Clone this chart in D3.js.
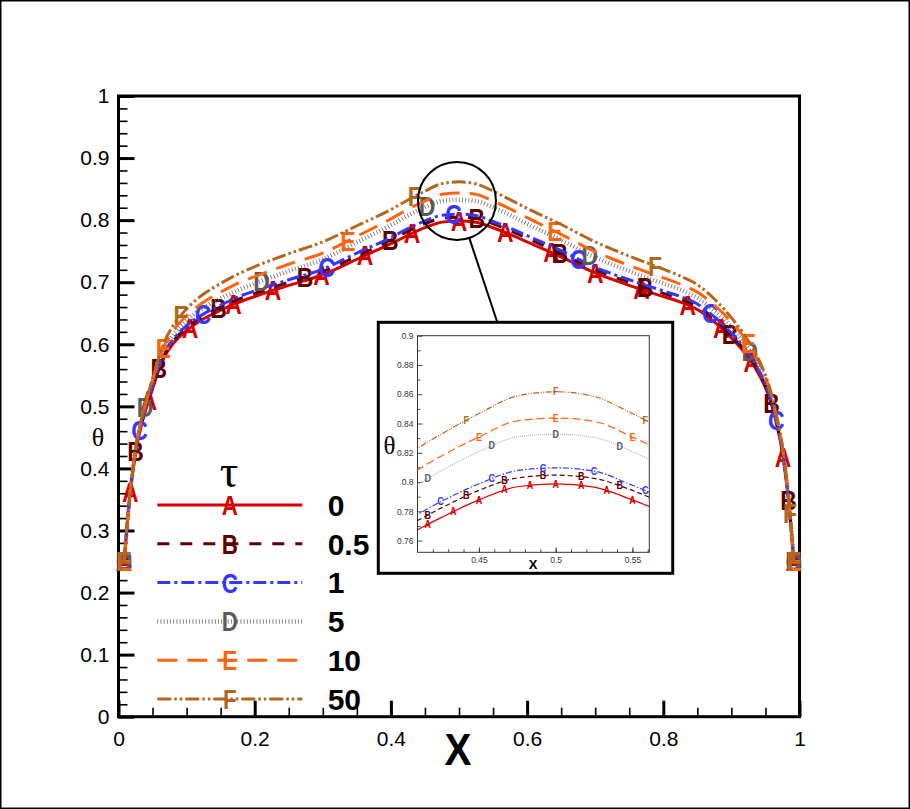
<!DOCTYPE html>
<html>
<head>
<meta charset="utf-8">
<script src="https://cdn.jsdelivr.net/npm/d3@7"></script>
<style>
  body { margin: 0; background: #fff; }
  svg { display: block; }
</style>
</head>
<body>
<svg id="chart" width="910" height="809"></svg>
<script>
// ---- data ----
const xs = [0.0083, 0.0167, 0.025, 0.0333, 0.0417, 0.05, 0.0583, 0.0667, 0.0833, 0.1,
            0.125, 0.15, 0.175, 0.2, 0.25, 0.3, 0.35, 0.4, 0.425, 0.45,
            0.475, 0.5, 0.525, 0.55, 0.575, 0.6, 0.65, 0.7, 0.75, 0.8,
            0.825, 0.85, 0.875, 0.9, 0.9167, 0.9333, 0.95, 0.9583, 0.9667, 0.975,
            0.9833, 0.9917];

const thetaA = [0.250, 0.355, 0.425, 0.468, 0.500, 0.528, 0.556, 0.578, 0.605, 0.622,
                0.641, 0.655, 0.667, 0.677, 0.695, 0.712, 0.737, 0.762, 0.7755, 0.7878,
                0.7968, 0.7987, 0.7965, 0.7878, 0.777, 0.765, 0.741, 0.715, 0.695, 0.677,
                0.668, 0.656, 0.636, 0.610, 0.590, 0.565, 0.530, 0.505, 0.470, 0.425,
                0.355, 0.250];
const thetaB = [0.250, 0.356, 0.427, 0.470, 0.503, 0.531, 0.559, 0.582, 0.609, 0.626,
                0.646, 0.660, 0.672, 0.682, 0.700, 0.717, 0.742, 0.768, 0.782, 0.7943,
                0.8028, 0.8047, 0.8025, 0.7943, 0.783, 0.771, 0.746, 0.720, 0.700, 0.682,
                0.673, 0.661, 0.641, 0.614, 0.594, 0.569, 0.533, 0.508, 0.472, 0.427,
                0.356, 0.250];
const thetaC = [0.250, 0.357, 0.428, 0.472, 0.505, 0.534, 0.562, 0.585, 0.612, 0.630,
                0.649, 0.663, 0.676, 0.686, 0.704, 0.721, 0.747, 0.772, 0.7865, 0.7988,
                0.8078, 0.8097, 0.8075, 0.7978, 0.787, 0.775, 0.751, 0.724, 0.704, 0.686,
                0.677, 0.665, 0.644, 0.618, 0.597, 0.571, 0.536, 0.510, 0.474, 0.428,
                0.357, 0.250];
const thetaD = [0.250, 0.357, 0.429, 0.474, 0.508, 0.538, 0.567, 0.590, 0.619, 0.638,
                0.659, 0.674, 0.687, 0.698, 0.718, 0.737, 0.764, 0.792, 0.8075, 0.8208,
                0.8308, 0.8327, 0.8305, 0.8208, 0.808, 0.794, 0.768, 0.740, 0.718, 0.698,
                0.688, 0.675, 0.654, 0.627, 0.605, 0.578, 0.541, 0.514, 0.477, 0.430,
                0.358, 0.250];
const thetaE = [0.250, 0.358, 0.431, 0.477, 0.512, 0.542, 0.572, 0.596, 0.626, 0.646,
                0.668, 0.684, 0.698, 0.709, 0.729, 0.747, 0.774, 0.802, 0.8175, 0.8308,
                0.8418, 0.8437, 0.8415, 0.8308, 0.818, 0.804, 0.777, 0.749, 0.727, 0.707,
                0.697, 0.684, 0.663, 0.636, 0.614, 0.586, 0.547, 0.519, 0.481, 0.433,
                0.359, 0.250];
const thetaF = [0.250, 0.358, 0.431, 0.478, 0.513, 0.545, 0.576, 0.602, 0.635, 0.657,
                0.681, 0.698, 0.713, 0.725, 0.746, 0.765, 0.791, 0.817, 0.8325, 0.8468,
                0.8588, 0.8617, 0.8585, 0.8468, 0.833, 0.819, 0.793, 0.765, 0.742, 0.721,
                0.710, 0.696, 0.673, 0.643, 0.619, 0.590, 0.550, 0.522, 0.483, 0.434,
                0.360, 0.250];

const tauLabels = ["0", "0.5", "1", "5", "10", "50"];
const symbols = ["A", "B", "C", "D", "E", "F"];

// x positions of the letter symbols on each curve, main plot
const markA = [0.0083, 0.0174, 0.0443, 0.105, 0.169, 0.227, 0.298, 0.362, 0.431, 0.5,
               0.568, 0.636, 0.700, 0.768, 0.836, 0.885, 0.93, 0.976, 0.9917];
const markB = [0.0083, 0.025, 0.059, 0.147, 0.274, 0.399, 0.526, 0.648, 0.773, 0.898,
               0.959, 0.984, 0.9917];
const markC = [0.0083, 0.031, 0.124, 0.306, 0.492, 0.675, 0.869, 0.966, 0.9917];
const markD = [0.0083, 0.039, 0.21, 0.453, 0.692, 0.927, 0.9917];
const markE = [0.0083, 0.066, 0.337, 0.641, 0.925, 0.9917];
const markF = [0.0083, 0.091, 0.435, 0.788, 0.986, 0.9917];

// same, inside the zoomed inset
const insetMarkA = [0.4167, 0.4333, 0.45, 0.4667, 0.4833, 0.5, 0.5167, 0.5333, 0.55];
const insetMarkB = [0.4167, 0.4417, 0.4667, 0.4917, 0.5167, 0.5417];
const insetMarkC = [0.425, 0.4583, 0.4917, 0.525, 0.5583];
const insetMarkD = [0.4167, 0.4583, 0.5, 0.5417];
const insetMarkE = [0.45, 0.5, 0.55];
const insetMarkF = [0.4417, 0.5, 0.5583];

const yMajorTicks = [0, 0.1, 0.2, 0.3, 0.4, 0.5, 0.6, 0.7, 0.8, 0.9, 1];
const yTickLabels = ["0", "0.1", "0.2", "0.3", "0.4", "0.5", "0.6", "0.7", "0.8", "0.9", "1"];
const xMajorTicks = [0, 0.2, 0.4, 0.6, 0.8, 1];
const xTickLabels = ["0", "0.2", "0.4", "0.6", "0.8", "1"];

const insetXTicks = [0.45, 0.5, 0.55];
const insetXLabels = ["0.45", "0.5", "0.55"];
const insetYTicks = [0.76, 0.78, 0.8, 0.82, 0.84, 0.86, 0.88, 0.9];
const insetYLabels = ["0.76", "0.78", "0.8", "0.82", "0.84", "0.86", "0.88", "0.9"];

const zoomCenter = [0.497, 0.831];

// ---- styles ----
const seriesStyle = [
  { color: "#d40000", sym: "#d40000", dash: null,               width: 3,   iDash: null,                iColor: "#e00000" },
  { color: "#5e0000", sym: "#5e0000", dash: "12 11",            width: 3,   iDash: "5 3",               iColor: "#5e0000" },
  { color: "#3535ff", sym: "#3535ff", dash: "13 4 3 4",         width: 3,   iDash: "6 2 1.5 2",         iColor: "#3535ff" },
  { color: "#6a6a6a", sym: "#5a5a5a", dash: "0.8 2.4",          width: 4.5, iDash: "1 1",               iColor: "#b5b5b5" },
  { color: "#ff6510", sym: "#ff6510", dash: "20 10",            width: 3,   iDash: "8 4",               iColor: "#ff6510" },
  { color: "#b4661c", sym: "#b4661c", dash: "14 3 2.5 3 2.5 3", width: 3,   iDash: "6 1.5 1 1.5 1 1.5", iColor: "#b4661c" }
];
const seriesValues = [thetaA, thetaB, thetaC, thetaD, thetaE, thetaF];
const seriesMarks = [markA, markB, markC, markD, markE, markF];
const seriesInsetMarks = [insetMarkA, insetMarkB, insetMarkC, insetMarkD, insetMarkE, insetMarkF];

const FONT = "'Liberation Sans', Arial, Helvetica, sans-serif";
const SERIF = "'Liberation Serif', 'DejaVu Serif', serif";

const svg = d3.select("#chart");

svg.append("rect")
    .attr("x", 0.75).attr("y", 0.75)
    .attr("width", 908.5).attr("height", 807.5)
    .attr("fill", "#fff")
    .attr("stroke", "#000")
    .attr("stroke-width", 1.5);

// ---- main plot ----
const plot = { left: 118.5, right: 799.5, top: 96, bottom: 716.7 };
const x = d3.scaleLinear().domain([0, 1]).range([plot.left, plot.right]);
const y = d3.scaleLinear().domain([0, 1]).range([plot.bottom, plot.top]);

function styleAxis(g, size, width) {
  g.select(".domain").remove();
  g.selectAll(".tick line").attr("stroke", "#000").attr("stroke-width", width);
  g.selectAll(".tick text")
      .attr("fill", "#000")
      .attr("font-family", FONT)
      .attr("font-size", size);
}

svg.append("g")
    .attr("transform", `translate(${plot.left},0)`)
    .call(d3.axisLeft(y).tickValues(d3.range(0, 1.001, 0.02)).tickSize(-9).tickFormat(""))
    .call(g => styleAxis(g, 0, 1.6));
svg.append("g")
    .attr("transform", `translate(${plot.left},0)`)
    .call(d3.axisLeft(y).tickValues(yMajorTicks).tickSize(-16).tickPadding(9)
      .tickFormat((d, i) => yTickLabels[i]))
    .call(g => styleAxis(g, 21, 3));

svg.append("g")
    .attr("transform", `translate(0,${plot.bottom})`)
    .call(d3.axisBottom(x).tickValues(d3.range(0, 1.001, 0.05)).tickSize(-9).tickFormat(""))
    .call(g => styleAxis(g, 0, 1.6));
svg.append("g")
    .attr("transform", `translate(0,${plot.bottom})`)
    .call(d3.axisBottom(x).tickValues(xMajorTicks).tickSize(-16).tickPadding(14)
      .tickFormat((d, i) => xTickLabels[i]))
    .call(g => styleAxis(g, 21, 3));

svg.append("rect")
    .attr("x", plot.left).attr("y", plot.top)
    .attr("width", plot.right - plot.left).attr("height", plot.bottom - plot.top)
    .attr("fill", "none")
    .attr("stroke", "#000")
    .attr("stroke-width", 3);

svg.append("text")
    .attr("transform", `translate(458,765) scale(0.92,1)`)
    .attr("text-anchor", "middle")
    .attr("font-family", FONT)
    .attr("font-weight", "bold")
    .attr("font-size", 44)
    .text("X");

svg.append("text")
    .attr("x", 98).attr("y", 446)
    .attr("text-anchor", "middle")
    .attr("font-family", SERIF)
    .attr("font-size", 26)
    .text("θ");

// find the point of a drawn curve at a given screen x
function pointAtX(node, px) {
  let lo = 0, hi = node.getTotalLength();
  for (let k = 0; k < 40; k++) {
    const mid = (lo + hi) / 2;
    if (node.getPointAtLength(mid).x < px) lo = mid; else hi = mid;
  }
  return node.getPointAtLength((lo + hi) / 2);
}

function drawSymbol(g, p, letter, color, size, sx) {
  g.append("text")
      .attr("transform", `translate(${p.x},${p.y}) scale(${sx},1)`)
      .attr("text-anchor", "middle")
      .attr("dy", "0.36em")
      .attr("font-family", FONT)
      .attr("font-weight", "bold")
      .attr("font-size", size)
      .attr("fill", color)
      .text(letter);
}

const line = d3.line()
    .x((d, i) => x(xs[i]))
    .y(d => y(d))
    .curve(d3.curveMonotoneX);

const curves = svg.append("g");
seriesValues.forEach((vals, s) => {
  const st = seriesStyle[s];
  const path = curves.append("path")
      .attr("d", line(vals))
      .attr("fill", "none")
      .attr("stroke", st.color)
      .attr("stroke-width", st.width)
      .attr("stroke-dasharray", st.dash);
  seriesMarks[s].forEach(mx => {
    drawSymbol(curves, pointAtX(path.node(), x(mx)), symbols[s], st.sym, 27, 0.85);
  });
});

// ---- legend ----
const legend = { x1: 157.3, x2: 302.3, top: 505, step: 38.8, labelX: 327.7 };
svg.append("text")
    .attr("x", 229).attr("y", 487)
    .attr("text-anchor", "middle")
    .attr("font-family", SERIF)
    .attr("font-size", 46)
    .text("τ");

tauLabels.forEach((lab, s) => {
  const st = seriesStyle[s];
  const ly = legend.top + s * legend.step;
  svg.append("line")
      .attr("x1", legend.x1).attr("x2", legend.x2)
      .attr("y1", ly).attr("y2", ly)
      .attr("stroke", st.color)
      .attr("stroke-width", st.width)
      .attr("stroke-dasharray", st.dash);
  drawSymbol(svg, { x: (legend.x1 + legend.x2) / 2, y: ly }, symbols[s], st.sym, 28, 0.8);
  svg.append("text")
      .attr("x", legend.labelX).attr("y", ly)
      .attr("dy", "0.36em")
      .attr("font-family", FONT)
      .attr("font-weight", "bold")
      .attr("font-size", 30)
      .text(lab);
});

// ---- zoom circle and connector ----
const insetBox = { left: 378.3, top: 322.3, right: 672.7, bottom: 573.3 };
const cR = 39;
const cx = x(zoomCenter[0]), cy = y(zoomCenter[1]);
const anchor = [insetBox.left + 119, insetBox.top];
const ang = Math.atan2(anchor[1] - cy, anchor[0] - cx);
svg.append("circle")
    .attr("cx", cx).attr("cy", cy).attr("r", cR)
    .attr("fill", "none")
    .attr("stroke", "#000")
    .attr("stroke-width", 2);
svg.append("line")
    .attr("x1", cx + cR * Math.cos(ang)).attr("y1", cy + cR * Math.sin(ang))
    .attr("x2", anchor[0]).attr("y2", anchor[1])
    .attr("stroke", "#000")
    .attr("stroke-width", 2);

// ---- inset ----
svg.append("rect")
    .attr("x", insetBox.left).attr("y", insetBox.top)
    .attr("width", insetBox.right - insetBox.left)
    .attr("height", insetBox.bottom - insetBox.top)
    .attr("fill", "#fff")
    .attr("stroke", "#000")
    .attr("stroke-width", 3);

const inset = { left: 417.5, right: 649.3, top: 335.7, bottom: 552.3 };
const xi = d3.scaleLinear().domain([0.41, 0.561]).range([inset.left, inset.right]);
const yi = d3.scaleLinear().domain([0.752, 0.9]).range([inset.bottom, inset.top]);

svg.append("clipPath").attr("id", "insetClip")
  .append("rect")
    .attr("x", inset.left).attr("y", inset.top)
    .attr("width", inset.right - inset.left)
    .attr("height", inset.bottom - inset.top);

function styleInsetAxis(g) {
  g.select(".domain").remove();
  g.selectAll(".tick line").attr("stroke", "#333").attr("stroke-width", 0.9);
  g.selectAll(".tick text")
      .attr("fill", "#333")
      .attr("font-family", FONT)
      .attr("font-size", 8.5);
}

svg.append("g")
    .attr("transform", `translate(${inset.left},0)`)
    .call(d3.axisLeft(yi).tickValues(d3.range(0.77, 0.9, 0.02)).tickSize(-3).tickFormat(""))
    .call(styleInsetAxis);
svg.append("g")
    .attr("transform", `translate(${inset.left},0)`)
    .call(d3.axisLeft(yi).tickValues(insetYTicks).tickSize(-5).tickPadding(4)
      .tickFormat((d, i) => insetYLabels[i]))
    .call(styleInsetAxis);
svg.append("g")
    .attr("transform", `translate(0,${inset.bottom})`)
    .call(d3.axisBottom(xi).tickValues(d3.range(0.42, 0.5605, 0.01)).tickSize(-3).tickFormat(""))
    .call(styleInsetAxis);
svg.append("g")
    .attr("transform", `translate(0,${inset.bottom})`)
    .call(d3.axisBottom(xi).tickValues(insetXTicks).tickSize(-5).tickPadding(5)
      .tickFormat((d, i) => insetXLabels[i]))
    .call(styleInsetAxis);

svg.append("rect")
    .attr("x", inset.left).attr("y", inset.top)
    .attr("width", inset.right - inset.left)
    .attr("height", inset.bottom - inset.top)
    .attr("fill", "none")
    .attr("stroke", "#333")
    .attr("stroke-width", 1);

svg.append("text")
    .attr("x", 533).attr("y", 569)
    .attr("text-anchor", "middle")
    .attr("font-family", FONT)
    .attr("font-weight", "bold")
    .attr("font-size", 13)
    .text("X");
svg.append("text")
    .attr("x", 389.5).attr("y", 454)
    .attr("text-anchor", "middle")
    .attr("font-family", SERIF)
    .attr("font-size", 25)
    .text("θ");

const insetLine = d3.line()
    .x((d, i) => xi(xs[i]))
    .y(d => yi(d))
    .curve(d3.curveMonotoneX);

const insetCurves = svg.append("g");
seriesValues.forEach((vals, s) => {
  const st = seriesStyle[s];
  const path = insetCurves.append("path")
      .attr("d", insetLine(vals))
      .attr("clip-path", "url(#insetClip)")
      .attr("fill", "none")
      .attr("stroke", st.iColor)
      .attr("stroke-width", 1.2)
      .attr("stroke-dasharray", st.iDash);
  seriesInsetMarks[s].forEach(mx => {
    drawSymbol(insetCurves, pointAtX(path.node(), xi(mx)), symbols[s], st.sym, 10, 0.9);
  });
});
</script>
</body>
</html>
